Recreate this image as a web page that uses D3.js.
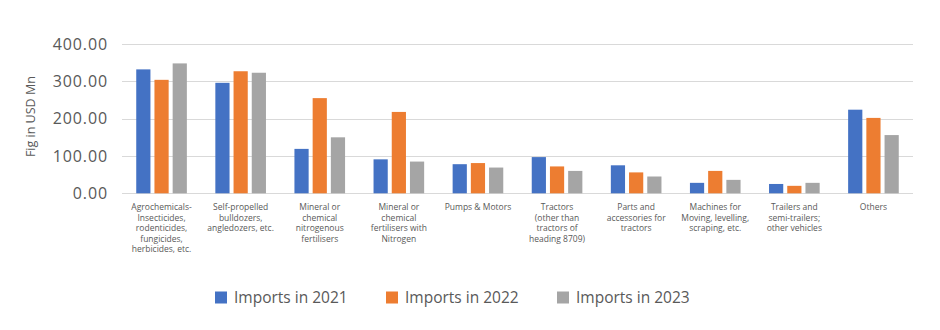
<!DOCTYPE html>
<html lang="en">
<head>
<meta charset="UTF-8">
<title>Agricultural imports</title>
<script src="https://d3js.org/d3.v7.min.js"></script>
<style>
  body { margin: 0; background: #fff; }
  svg { font-family: "Open Sans", sans-serif; }
  .grid line { stroke: #d9d9d9; stroke-width: 1; }
  .ytick { fill: #595959; font-size: 16px; letter-spacing: 0.9px; }
  .cat { fill: #595959; font-size: 8.5px; }
  .legend text { fill: #595959; font-size: 15.5px; }
</style>
</head>
<body>
<div id="chart"></div>
<script>
// category labels, already broken into lines
const categories = [
  ["Agrochemicals-", "Insecticides,", "rodenticides,", "fungicides,", "herbicides, etc."],
  ["Self-propelled", "bulldozers,", "angledozers, etc."],
  ["Mineral or", "chemical", "nitrogenous", "fertilisers"],
  ["Mineral or", "chemical", "fertilisers with", "Nitrogen"],
  ["Pumps & Motors"],
  ["Tractors", "(other than", "tractors of", "heading 8709)"],
  ["Parts and", "accessories for", "tractors"],
  ["Machines for", "Moving, levelling,", "scraping, etc."],
  ["Trailers and", "semi-trailers;", "other vehicles"],
  ["Others"]
];
const seriesNames = ["Imports in 2021", "Imports in 2022", "Imports in 2023"];
const imports2021 = [332, 296, 119, 91, 78, 97, 75, 28, 25, 224];
const imports2022 = [304, 327, 255, 218, 81, 72, 56, 60, 20, 202];
const imports2023 = [348, 323, 150, 85, 69, 60, 45, 36, 28, 156];
const yTicks = [0, 100, 200, 300, 400];
const colors = ["#4472C4", "#ED7D31", "#A5A5A5"];

const W = 940, H = 330;
const plotL = 122, plotR = 913, plotT = 44, plotB = 193.3;

const svg = d3.select("#chart").append("svg")
  .attr("width", W).attr("height", H);

const catIdx = d3.range(categories.length);
const x0 = d3.scaleBand().domain(catIdx).range([plotL, plotR]);
const x1 = d3.scaleBand().domain(d3.range(3))
  .range([x0.bandwidth() * 0.18, x0.bandwidth() * 0.82])
  .paddingInner(0.22);
const y = d3.scaleLinear().domain([0, 400]).range([plotB, plotT]);

// gridlines
svg.append("g").attr("class", "grid")
  .selectAll("line").data(yTicks).join("line")
  .attr("x1", plotL).attr("x2", plotR)
  .attr("y1", d => Math.round(y(d)) + 0.5)
  .attr("y2", d => Math.round(y(d)) + 0.5);

// y tick labels
svg.append("g").selectAll("text").data(yTicks).join("text")
  .attr("class", "ytick")
  .attr("x", 108).attr("y", d => y(d))
  .attr("dy", "0.35em")
  .attr("text-anchor", "end")
  .text(d => d3.format(".2f")(d));

svg.append("text")
  .attr("transform", `translate(35,${(plotT + plotB) / 2 - 2}) rotate(-90)`)
  .attr("text-anchor", "middle")
  .attr("fill", "#595959")
  .style("font-size", "12.5px")
  .text("Fig in USD Mn");

// bars
const allSeries = [imports2021, imports2022, imports2023];
allSeries.forEach((vals, s) => {
  svg.append("g").selectAll("rect").data(vals).join("rect")
    .attr("x", (d, i) => x0(i) + x1(s))
    .attr("width", x1.bandwidth())
    .attr("y", d => y(d))
    .attr("height", d => y(0) - y(d))
    .attr("fill", colors[s]);
});

// category labels
const cat = svg.append("g").selectAll("text").data(categories).join("text")
  .attr("class", "cat")
  .attr("text-anchor", "middle")
  .attr("x", (d, i) => x0(i) + x0.bandwidth() / 2)
  .attr("y", 210);
cat.selectAll("tspan").data(d => d).join("tspan")
  .attr("x", function () { return this.parentNode.getAttribute("x"); })
  .attr("dy", (d, i) => i === 0 ? 0 : 10.5)
  .text(d => d);

// legend
const legendX = [215, 386, 557];
const legend = svg.append("g").attr("class", "legend")
  .selectAll("g").data(seriesNames).join("g")
  .attr("transform", (d, i) => `translate(${legendX[i]},297.5)`);
legend.append("rect")
  .attr("x", 0).attr("y", -6).attr("width", 12).attr("height", 12)
  .attr("fill", (d, i) => colors[i]);
legend.append("text")
  .attr("x", 19).attr("dy", "0.35em")
  .text(d => d);
</script>
</body>
</html>
